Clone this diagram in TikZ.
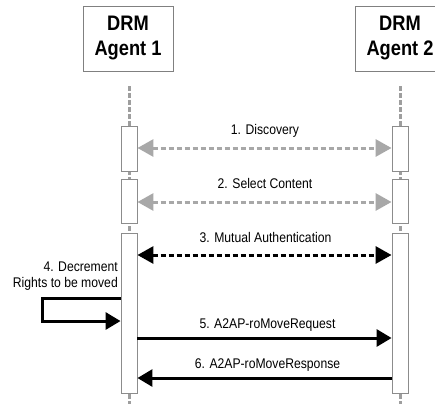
\documentclass[tikz,border=0pt]{standalone}
\usepackage{fontspec}
\setmainfont{Liberation Sans}
\newfontfamily\narrowsans[FakeStretch=0.87]{Liberation Sans}
\usetikzlibrary{arrows.meta}
\definecolor{boxgray}{HTML}{808080}
\definecolor{bargray}{HTML}{8C8C8C}
\definecolor{linegray}{HTML}{9E9E9E}
\definecolor{msggray}{HTML}{A8A8A8}
\begin{document}
\begin{tikzpicture}[x=1pt,y=-1pt,
  agent/.style={draw=boxgray, line width=0.9pt, minimum width=90pt, minimum height=65pt,
    inner sep=0pt, align=center,
    font=\narrowsans\bfseries\fontsize{21}{25}\selectfont},
  actbar/.style={draw=bargray, fill=white, line width=0.9pt, minimum width=16pt, inner sep=0pt},
  lifeline/.style={draw=linegray, line width=3pt, dash pattern=on 4.5pt off 2.5pt},
  msglabel/.style={font=\narrowsans\fontsize{14}{16}\selectfont, inner sep=0pt, anchor=base},
  headtip/.style={-{Triangle[length=15pt,width=17pt,fill=#1]}},
  bothtips/.style={{Triangle[length=16pt,width=17pt,fill=#1]}-{Triangle[length=16pt,width=17pt,fill=#1]}},
  graymsg/.style={bothtips=msggray, draw=msggray, line width=3pt, dash pattern=on 5pt off 3pt},
  blackdashmsg/.style={bothtips=black, draw=black, line width=3pt, dash pattern=on 5pt off 3pt},
  blackmsg/.style={headtip=black, draw=black, line width=3pt},
]
\useasboundingbox (0,0) rectangle (435,404);
\clip (0,0) rectangle (435,404);

% participants
\node[agent] (ag1) at (128,38.5) {DRM\\Agent 1};
\node[agent] (ag2) at (400,38.5) {DRM\\Agent 2};

% lifelines
\coordinate (top1) at (129,86);
\coordinate (bot1) at (129,404);
\coordinate (top2) at (400,86);
\coordinate (bot2) at (400,404);
\draw[lifeline] (top1) -- (bot1);
\draw[lifeline] (top2) -- (bot2);

% activation bars
\node[actbar, minimum height=45pt] (a1b1) at (129,148.5) {};
\node[actbar, minimum height=44pt] (a1b2) at (129,201) {};
\node[actbar, minimum height=160pt] (a1b3) at (129,313) {};
\node[actbar, minimum height=45pt] (a2b1) at (400,148.5) {};
\node[actbar, minimum height=44pt] (a2b2) at (400,201) {};
\node[actbar, minimum height=160pt] (a2b3) at (400,313) {};

% message heights
\coordinate (m3) at (0,255);
\coordinate (m4a) at (0,298);
\coordinate (m4b) at (0,321);
\coordinate (m5) at (0,338);
\coordinate (m6) at (0,378);

% 1. Discovery
\draw[graymsg] (a1b1.east |- 0,148) -- (a2b1.west |- 0,148);
\node[msglabel] (l1) at (265,134) {1. Discovery};

% 2. Select Content
\draw[graymsg] (a1b2.east |- 0,202) -- (a2b2.west |- 0,202);
\node[msglabel] (l2) at (265,188) {2. Select Content};

% 3. Mutual Authentication
\draw[blackdashmsg] (a1b3.east |- m3) -- (a2b3.west |- m3);
\node[msglabel] (l3) at (265.5,242) {3. Mutual Authentication};

% 4. Decrement (self message)
\node[msglabel, anchor=base east] (l4a) at (118,271) {4. Decrement};
\node[msglabel, anchor=base east] (l4b) at (118,287) {Rights to be moved};
\draw[blackmsg, line join=miter] (a1b3.west |- m4a) -- (42,298) -- (42,321) -- (a1b3.west |- m4b);

% 5. A2AP-roMoveRequest
\draw[blackmsg] (a1b3.east |- m5) -- (a2b3.west |- m5);
\node[msglabel] (l5) at (267.5,328) {5. A2AP-roMoveRequest};

% 6. A2AP-roMoveResponse
\draw[blackmsg] (a2b3.west |- m6) -- (a1b3.east |- m6);
\node[msglabel] (l6) at (267.5,368) {6. A2AP-roMoveResponse};
\end{tikzpicture}
\end{document}
